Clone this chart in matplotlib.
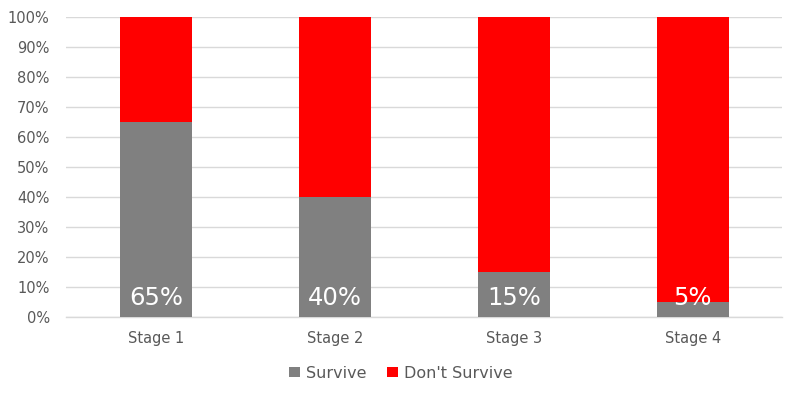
import matplotlib.pyplot as plt
from matplotlib.ticker import PercentFormatter

# data
stages = ["Stage 1", "Stage 2", "Stage 3", "Stage 4"]
survive = [0.65, 0.40, 0.15, 0.05]
dont_survive = [1 - s for s in survive]

fig, ax = plt.subplots(figsize=(7.99, 3.99), dpi=100)
fig.subplots_adjust(left=0.083, right=0.979, top=0.957, bottom=0.205)

x = range(len(stages))
ax.bar(x, survive, width=0.4, color="#808080", label="Survive", zorder=2)
ax.bar(x, dont_survive, width=0.4, bottom=survive, color="#ff0000",
       label="Don't Survive", zorder=2)

for i, s in enumerate(survive):
    ax.text(i, 0.04, f"{s:.0%}", ha="center", va="baseline", color="white",
            fontsize=17.5, zorder=3)

ax.set_xlim(-0.5, len(stages) - 0.5)
ax.set_ylim(0, 1)
ax.set_yticks([i / 10 for i in range(11)])
ax.yaxis.set_major_formatter(PercentFormatter(1.0, decimals=0))
ax.set_xticks(list(x))
ax.set_xticklabels(stages)
ax.tick_params(axis="both", length=0, colors="#595959", labelsize=10.5)
ax.tick_params(axis="y", pad=12)
ax.tick_params(axis="x", pad=10)
ax.grid(axis="y", color="#d9d9d9", linewidth=1, zorder=0)
ax.axhline(0, color="#d9d9d9", linewidth=1, zorder=1, clip_on=False)
for sp in ax.spines.values():
    sp.set_visible(False)

handles, labels = ax.get_legend_handles_labels()
fig.legend(handles, labels, loc="center", bbox_to_anchor=(0.502, 0.065), ncol=2,
           frameon=False, fontsize=11.5, labelcolor="#595959", handlelength=0.65,
           handleheight=0.65, columnspacing=1.3, handletextpad=0.4)

plt.savefig("out.png", dpi=100)
